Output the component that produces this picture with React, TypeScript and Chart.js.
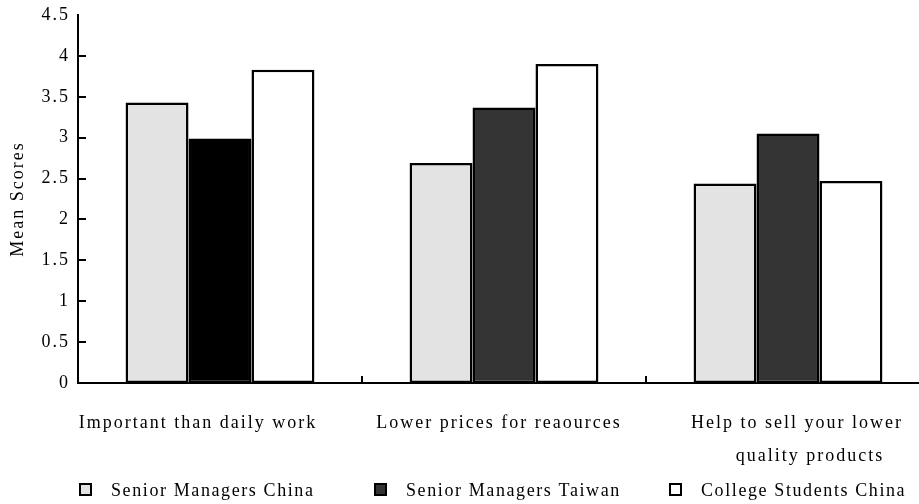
import React, { useEffect, useRef } from 'react';
import { Chart, registerables } from 'chart.js';

Chart.register(...registerables);

// ---- data ----
const categories: string[][] = [
  ['Important than daily work'],
  ['Lower prices for reaources'],
  ['Help to sell your lower', 'quality products'],
];
const seriesNames = ['Senior Managers China', 'Senior Managers Taiwan', 'College Students China'];
const seniorManagersChina = [3.43, 2.69, 2.44];
const seniorManagersTaiwan = [2.99, 3.37, 3.05];
const collegeStudentsChina = [3.83, 3.9, 2.47];
const yMin = 0;
const yMax = 4.5;
const yStep = 0.5;
const yTitle = 'Mean Scores';

// ---- style ----
const FONT = '"Liberation Serif", "Times New Roman", serif';
const SPACING = '2px';
const LEGEND_SPACING = '1.6px';
const barFills = [
  ['#e3e3e3', '#e3e3e3', '#e3e3e3'],
  ['#000000', '#333333', '#333333'],
  ['#ffffff', '#ffffff', '#ffffff'],
];
const legendFills = ['#e3e3e3', '#333333', '#ffffff'];
// horizontal nudge (px) of each category label line from its category centre
const labelNudges = [[-22], [-5], [9, 22]];

const spacingPlugin = {
  id: 'letterSpacing',
  beforeUpdate(chart: any) {
    chart.ctx.letterSpacing = SPACING;
  },
  beforeLayout(chart: any) {
    chart.ctx.letterSpacing = SPACING;
  },
  beforeDraw(chart: any) {
    chart.ctx.letterSpacing = SPACING;
  },
};

const innerTicksPlugin = {
  id: 'innerTicks',
  afterDatasetsDraw(chart: any) {
    const { ctx, chartArea, scales } = chart;
    const xs = scales.x;
    const ys = scales.y;
    ctx.save();
    ctx.strokeStyle = '#000';
    ctx.lineWidth = 2;
    ys.ticks.forEach((t: any) => {
      if (t.value <= yMin || t.value >= yMax) return;
      const py = Math.round(ys.getPixelForValue(t.value));
      ctx.beginPath();
      ctx.moveTo(chartArea.left, py);
      ctx.lineTo(chartArea.left + 8, py);
      ctx.stroke();
    });
    for (let i = 1; i < categories.length; i++) {
      const px = Math.round((xs.getPixelForValue(i - 1) + xs.getPixelForValue(i)) / 2);
      ctx.beginPath();
      ctx.moveTo(px, chartArea.bottom - 7);
      ctx.lineTo(px, chartArea.bottom);
      ctx.stroke();
    }
    // category labels
    ctx.letterSpacing = SPACING;
    ctx.font = `18px ${FONT}`;
    ctx.fillStyle = '#000';
    ctx.textAlign = 'center';
    ctx.textBaseline = 'middle';
    categories.forEach((lines, i) => {
      const cx = xs.getPixelForValue(i);
      lines.forEach((line, j) => {
        ctx.fillText(line, cx + labelNudges[i][j], chartArea.bottom + 40 + j * 33);
      });
    });
    ctx.restore();
  },
};

const legendPlugin = {
  id: 'customLegend',
  afterDraw(chart: any) {
    const { ctx } = chart;
    ctx.save();
    ctx.letterSpacing = LEGEND_SPACING;
    ctx.font = `18px ${FONT}`;
    ctx.textBaseline = 'middle';
    ctx.textAlign = 'left';
    const startX = 79;
    const colW = 295;
    const boxTop = 483;
    const box = 13;
    chart.data.datasets.forEach((ds: any, i: number) => {
      const x = startX + i * colW;
      ctx.fillStyle = legendFills[i];
      ctx.fillRect(x, boxTop, box, box);
      ctx.strokeStyle = '#000';
      ctx.lineWidth = 2;
      ctx.strokeRect(x + 1, boxTop + 1, box - 2, box - 2);
      ctx.fillStyle = '#000';
      ctx.fillText(ds.label, x + 32, 491);
    });
    ctx.restore();
  },
};

export default function App() {
  const ref = useRef<HTMLCanvasElement>(null);
  useEffect(() => {
    if (!ref.current) return;
    const seriesValues = [seniorManagersChina, seniorManagersTaiwan, collegeStudentsChina];
    const chart = new Chart(ref.current, {
      type: 'bar',
      data: {
        labels: categories,
        datasets: seriesNames.map((name, i) => ({
          label: name,
          data: seriesValues[i],
          backgroundColor: barFills[i],
          borderColor: '#000000',
          borderWidth: 2.5,
          borderSkipped: false,
          barPercentage: 1,
          categoryPercentage: 0.665,
        })),
      },
      options: {
        responsive: false,
        animation: false,
        events: [],
        layout: { padding: { top: 15, left: 0, right: 10, bottom: 0 } },
        plugins: {
          legend: { display: false },
          tooltip: { enabled: false },
          title: { display: false },
        },
        scales: {
          x: {
            grid: { display: false, drawTicks: false },
            border: { display: true, color: '#000', width: 2 },
            ticks: { display: false },
            afterFit(scale: any) {
              scale.height = 121;
              scale.paddingLeft = 0;
              scale.paddingRight = 0;
            },
          },
          y: {
            min: yMin,
            max: yMax,
            grid: { display: false, drawTicks: false },
            border: { display: true, color: '#000', width: 2 },
            ticks: {
              stepSize: yStep,
              color: '#000',
              font: { family: FONT, size: 18 },
              padding: 8,
              callback: (v: any) => String(Number(v)),
            },
            title: {
              display: true,
              text: yTitle,
              color: '#000',
              font: { family: FONT, size: 18 },
              padding: { top: 7, bottom: 0 },
            },
            afterFit(scale: any) {
              scale.width = 78;
              scale.paddingTop = 0;
              scale.paddingBottom = 0;
            },
          },
        },
      },
      plugins: [spacingPlugin, innerTicksPlugin, legendPlugin],
    });
    return () => chart.destroy();
  }, []);
  return (
    <div style={{ position: 'fixed', left: 0, top: 0, width: 919, height: 504, overflow: 'hidden', background: '#fff' }}>
      <canvas ref={ref} width={940} height={504} style={{ display: 'block' }} />
    </div>
  );
}
